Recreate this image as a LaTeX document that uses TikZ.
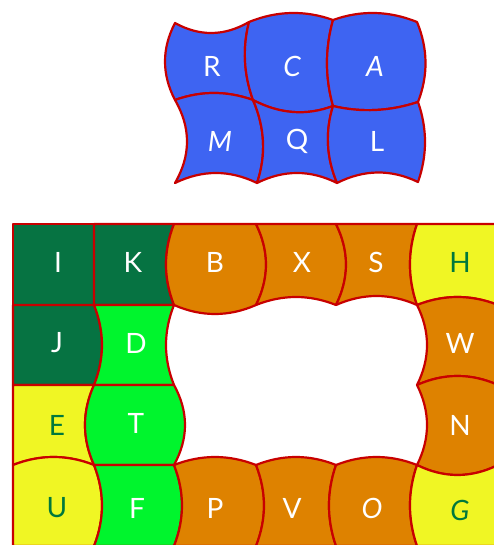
\documentclass[tikz,border=0pt]{standalone}
\usepackage{fontspec}
\setmainfont{Lato}
\usetikzlibrary{calc}
\definecolor{qblue}{RGB}{62,100,242}
\definecolor{qdark}{RGB}{6,115,66}
\definecolor{qgreen}{RGB}{0,245,45}
\definecolor{qyellow}{RGB}{240,246,36}
\definecolor{qorange}{RGB}{222,130,0}
\definecolor{qred}{RGB}{200,0,0}
\definecolor{qtext}{RGB}{0,120,60}
\tikzset{
  patch/.style={draw=qred, line width=2.2pt, line join=round},
  pblue/.style={patch, fill=qblue},
  pdark/.style={patch, fill=qdark},
  pgreen/.style={patch, fill=qgreen},
  pyellow/.style={patch, fill=qyellow},
  porange/.style={patch, fill=qorange},
  hb/.style={to path={.. controls ($(\tikztostart)!1/3!(\tikztotarget)+(0,{#1*4/3})$) and ($(\tikztostart)!2/3!(\tikztotarget)+(0,{#1*4/3})$) .. (\tikztotarget)}},
  vb/.style={to path={.. controls ($(\tikztostart)!1/3!(\tikztotarget)+({#1*4/3},0)$) and ($(\tikztostart)!2/3!(\tikztotarget)+({#1*4/3},0)$) .. (\tikztotarget)}},
  lw/.style={text=white, font=\fontsize{28}{28}\selectfont, inner sep=0pt},
  lg/.style={text=qtext, font=\fontsize{28}{28}\selectfont, inner sep=0pt},
}
\begin{document}
\begin{tikzpicture}[x=1pt,y=-1pt]
\useasboundingbox (0,0) rectangle (494,545);
\fill[white] (0,0) rectangle (494,545);
% ---- top block ----
\path[pblue] (175,23) to[hb=10.5] (249,22) to[vb=-6] (253,100) to[hb=-7] (175,100) to[vb=-10] (175,23) -- cycle;
\path[pblue] (249,22) to[hb=-8] (333,20) to[vb=-6] (333,106) to[hb=9] (253,100) to[vb=-6] (249,22) -- cycle;
\path[pblue] (333,20) to[hb=-8] (417,22) to[vb=8] (418,102) to[hb=6] (333,106) to[vb=-6] (333,20) -- cycle;
\path[pblue] (175,100) to[hb=-7] (253,100) to[vb=8] (257,183) to[hb=-10] (175,183) to[vb=12] (175,100) -- cycle;
\path[pblue] (253,100) to[hb=9] (333,106) to[vb=-7] (337,183) to[hb=-10] (257,183) to[vb=8] (253,100) -- cycle;
\path[pblue] (333,106) to[hb=6] (418,102) to[vb=7] (418,182) to[hb=-10] (337,183) to[vb=-7] (333,106) -- cycle;
\node[lw] (R) at (212,66) {R};
\node[lw] (C) at (292,66) {\itshape C};
\node[lw] (A) at (375,66) {\itshape A};
\node[lw] (M) at (220,141) {\itshape M};
\node[lw] (Q) at (297,141) {Q};
\node[lw] (L) at (377,141) {L};
% ---- bottom frame ----
% row 1
\path[pdark] (13,224) rectangle (94,305);
\path[pdark] (94,224) -- (174,224) to[vb=-8] (174,305) -- (94,305) -- cycle;
\path[porange] (174,224) -- (256,224) to[vb=10] (256,305) to[hb=9] (174,305) to[vb=-8] (174,224) -- cycle;
\path[porange] (256,224) -- (336,224) to[vb=10] (336,305) to[hb=-8] (256,305) to[vb=10] (256,224) -- cycle;
\path[porange] (336,224) -- (417,224) to[vb=-7] (417,305) to[hb=-9] (336,305) to[vb=10] (336,224) -- cycle;
\path[pyellow] (417,224) -- (498,224) -- (498,305) to[hb=-8] (417,305) to[vb=-7] (417,224) -- cycle;
% row 2
\path[pdark] (13,305) -- (94,305) to[vb=8] (94,385) -- (13,385) -- cycle;
\path[pgreen] (94,305) -- (174,305) to[vb=-8] (174,385) -- (94,385) to[vb=8] (94,305) -- cycle;
\path[porange] (417,305) to[hb=-8] (498,305) -- (498,385) to[hb=-9] (417,385) to[vb=10] (417,305) -- cycle;
% row 3
\path[pyellow] (13,385) -- (94,385) to[vb=-9] (94,465) to[hb=-8] (13,465) -- cycle;
\path[pgreen] (94,385) -- (174,385) to[vb=11] (174,465) -- (94,465) to[vb=-9] (94,385) -- cycle;
\path[porange] (417,385) to[hb=-9] (498,385) -- (498,465) to[hb=10] (417,465) to[vb=10] (417,385) -- cycle;
% row 4
\path[pyellow] (13,465) to[hb=-8] (94,465) to[vb=8] (94,546) -- (13,546) -- cycle;
\path[pgreen] (94,465) -- (174,465) to[vb=8] (174,546) -- (94,546) to[vb=8] (94,465) -- cycle;
\path[porange] (174,465) to[hb=-8] (256,465) to[vb=8] (256,546) -- (174,546) to[vb=8] (174,465) -- cycle;
\path[porange] (256,465) to[hb=-8] (336,465) to[vb=-7] (336,546) -- (256,546) to[vb=8] (256,465) -- cycle;
\path[porange] (336,465) to[hb=-8] (417,465) to[vb=-7] (417,546) -- (336,546) to[vb=-7] (336,465) -- cycle;
\path[pyellow] (417,465) to[hb=10] (498,465) -- (498,546) -- (417,546) to[vb=-7] (417,465) -- cycle;
% letters
\node[lw] (I) at (58,262) {I};
\node[lw] (K) at (133,262) {K};
\node[lw] (B) at (215,262) {B};
\node[lw] (X) at (302,262) {X};
\node[lw] (S) at (376,262) {S};
\node[lg] (H) at (460,262) {H};
\node[lw] (J) at (57,343) {J};
\node[lw] (D) at (136,343) {D};
\node[lw] (W) at (460,343) {W};
\node[lg] (E) at (57,425) {E};
\node[lw] (T) at (136,423) {T};
\node[lw] (N) at (460,425) {N};
\node[lg] (U) at (57,508) {U};
\node[lw] (F) at (137,508) {F};
\node[lw] (P) at (215,508) {P};
\node[lw] (V) at (292,508) {V};
\node[lw] (O) at (372,508) {\itshape O};
\node[lg] (G) at (460,510) {\itshape G};
\end{tikzpicture}
\end{document}
